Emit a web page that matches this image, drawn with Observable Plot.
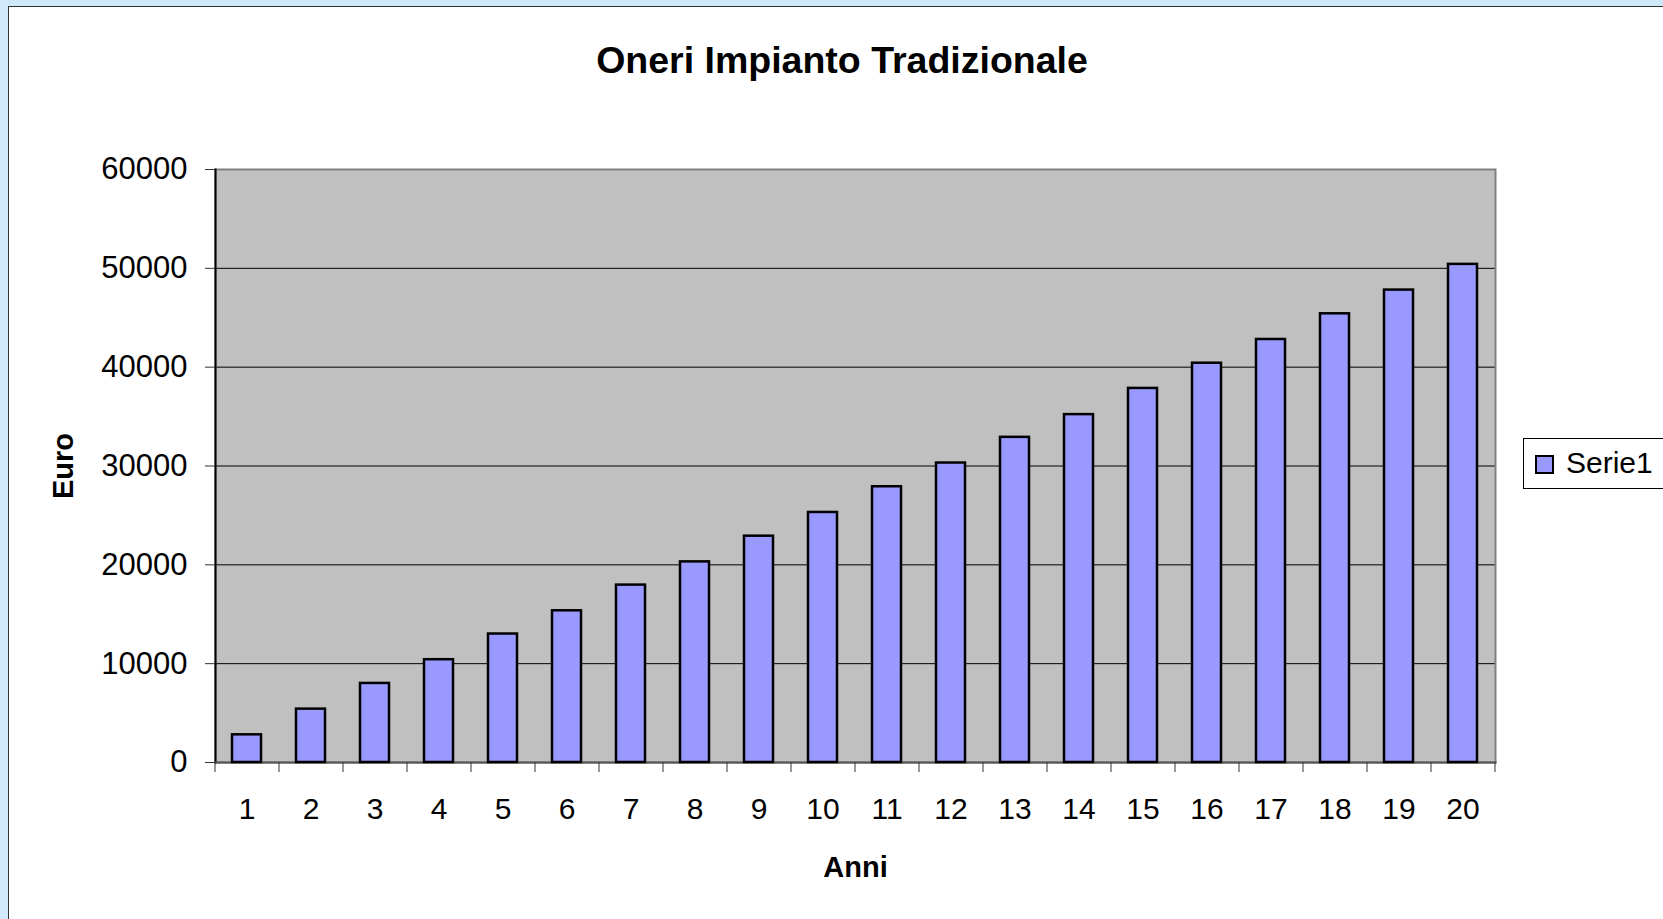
<!DOCTYPE html>
<html><head><meta charset="utf-8">
<script src="https://cdn.jsdelivr.net/npm/d3@7"></script>
<script src="https://cdn.jsdelivr.net/npm/@observablehq/plot@0.6"></script>
<style>
html,body{margin:0;padding:0;width:1663px;height:919px;overflow:hidden;background:#cfe9fb;font-family:"Liberation Sans",Arial,sans-serif;}
#panel{position:absolute;left:8px;top:6px;width:1700px;height:1000px;background:#fff;border:1px solid #333;}
#chart{position:absolute;left:0;top:0;}
#title{position:absolute;left:0;width:1684px;top:42px;line-height:37px;text-align:center;font-weight:bold;font-size:37.5px;color:#000;}
#legend{position:absolute;left:1523px;top:438px;width:200px;height:49px;border:1px solid #000;background:#fff;}
#legend .sw{position:absolute;left:11px;top:16px;width:15px;height:15px;background:#9999ff;border:2px solid #000;}
#legend .lb{position:absolute;left:42px;top:7px;font-size:30px;line-height:34px;color:#000;}
</style>
</head><body>
<div id="panel"></div>
<div id="chart"></div>
<div id="title"></div>
<div id="legend"><div class="sw"></div><div class="lb"></div></div>
<script>
const titolo = "Oneri Impianto Tradizionale";
const etichettaX = "Anni";
const etichettaY = "Euro";
const serie = "Serie1";
const anni = [1,2,3,4,5,6,7,8,9,10,11,12,13,14,15,16,17,18,19,20];
const euro = [2800,5400,8000,10400,13000,15350,17950,20300,22900,25300,27900,30300,32900,35200,37850,40400,42800,45400,47800,50400];
const yTicks = [0,10000,20000,30000,40000,50000,60000];

document.getElementById("title").textContent = titolo;
document.querySelector("#legend .lb").textContent = serie;

const data = anni.map((a,i)=>({anno:a, euro:euro[i]}));
const W = 1663, ML = 215, MR = 168;
const step = (W - ML - MR) / anni.length;

const chart = Plot.plot({
  width: W, height: 919,
  marginLeft: ML, marginRight: MR, marginTop: 169, marginBottom: 157,
  style: {background:"transparent", fontFamily:"Liberation Sans, Arial, sans-serif", fontSize:"30px", color:"#000", overflow:"visible"},
  x: {type:"band", domain: anni, paddingInner:0.54, paddingOuter:0.27, axis:null},
  y: {domain:[0,60000], axis:null},
  marks: [
    Plot.frame({fill:"#c0c0c0", stroke:"none"}),
    Plot.gridY(yTicks, {stroke:"#000", strokeOpacity:1, strokeWidth:1}),
    Plot.frame({stroke:"#808080", strokeWidth:2}),
    Plot.frame({anchor:"left", stroke:"#000", strokeWidth:2}),
    Plot.frame({anchor:"bottom", stroke:"#555", strokeWidth:2}),
    Plot.barY(data, {x:"anno", y:"euro", fill:"#9999ff", stroke:"#000", strokeWidth:2.5}),
    Plot.axisY(yTicks, {tickSize:10, tickPadding:18, tickFormat:"d", label:null, stroke:"#333", fontSize:31}),
    Plot.axisX(anni, {tickSize:10, tickFormat:()=>"", dx:-step/2, label:null, stroke:"#333"}),
    Plot.axisX([anni[anni.length-1]], {tickSize:10, tickFormat:()=>"", dx:step/2, label:null, stroke:"#333"}),
    Plot.axisX(anni, {tickSize:0, tickPadding:35, label:null, fontSize:30}),
    Plot.text([etichettaY], {text:d=>d, frameAnchor:"left", textAnchor:"middle", dx:-152, rotate:-90, fontWeight:"bold", fontSize:29}),
    Plot.text([etichettaX], {text:d=>d, frameAnchor:"bottom", dy:114, fontWeight:"bold", fontSize:29})
  ]
});
document.getElementById("chart").appendChild(chart);
</script>
</body></html>
